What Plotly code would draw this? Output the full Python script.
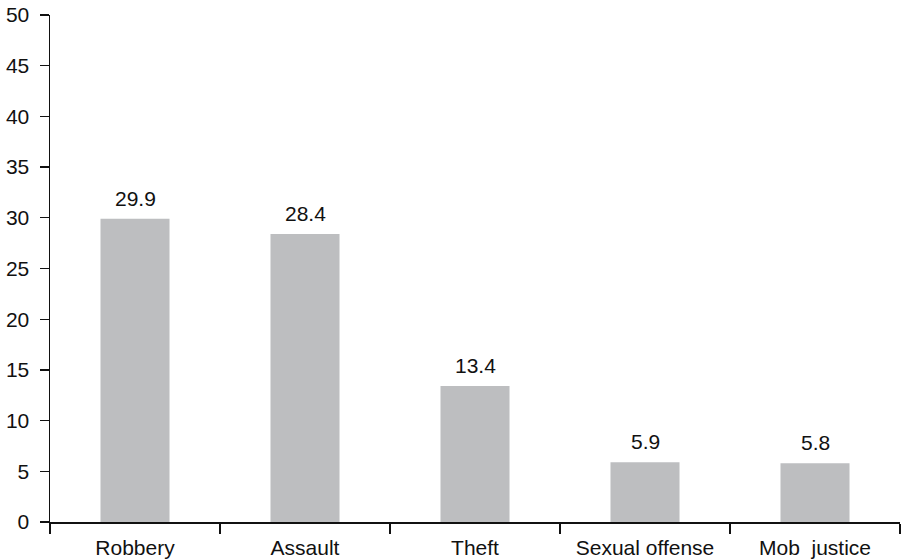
import plotly.graph_objects as go

categories = ["Robbery", "Assault", "Theft", "Sexual offense", "Mob\u00a0 justice"]
values = [29.9, 28.4, 13.4, 5.9, 5.8]
y_ticks = [0, 5, 10, 15, 20, 25, 30, 35, 40, 45, 50]

FONT = dict(family="Liberation Sans, Arial, sans-serif", size=21, color="#111111")

fig = go.Figure()
fig.add_trace(go.Bar(
    x=categories, y=values,
    marker=dict(color="#bdbec0", line=dict(width=0)),
    hoverinfo="skip",
))

for c, v in zip(categories, values):
    fig.add_annotation(
        x=c, y=v, text=f"{v:.1f}", showarrow=False,
        yanchor="bottom", yshift=7, font=FONT,
    )

fig.update_layout(
    width=902, height=560,
    margin=dict(l=50, r=2, t=15, b=38),
    paper_bgcolor="white", plot_bgcolor="white",
    bargap=0.594,
    showlegend=False,
    font=FONT,
)
fig.update_xaxes(
    showgrid=False, showline=True, linecolor="#111111", linewidth=1.5,
    ticks="outside", tickson="boundaries", ticklen=10, tickwidth=1.3,
    tickcolor="#111111", tickfont=FONT, automargin=False,
    ticklabelstandoff=6, ticklabeloverflow="allow",
)
fig.update_yaxes(
    range=[0, 50], tickvals=y_ticks, showgrid=False, zeroline=False,
    showline=True, linecolor="#111111", linewidth=1.5,
    ticks="outside", ticklen=9, tickwidth=1.3, tickcolor="#111111",
    tickfont=FONT, automargin=False, ticklabelstandoff=6,
    ticklabeloverflow="allow",
)

fig.write_html(
    "out.html",
    config={"displayModeBar": False, "staticPlot": True},
    post_script="document.body.style.margin='0';document.body.style.overflow='hidden';",
)
